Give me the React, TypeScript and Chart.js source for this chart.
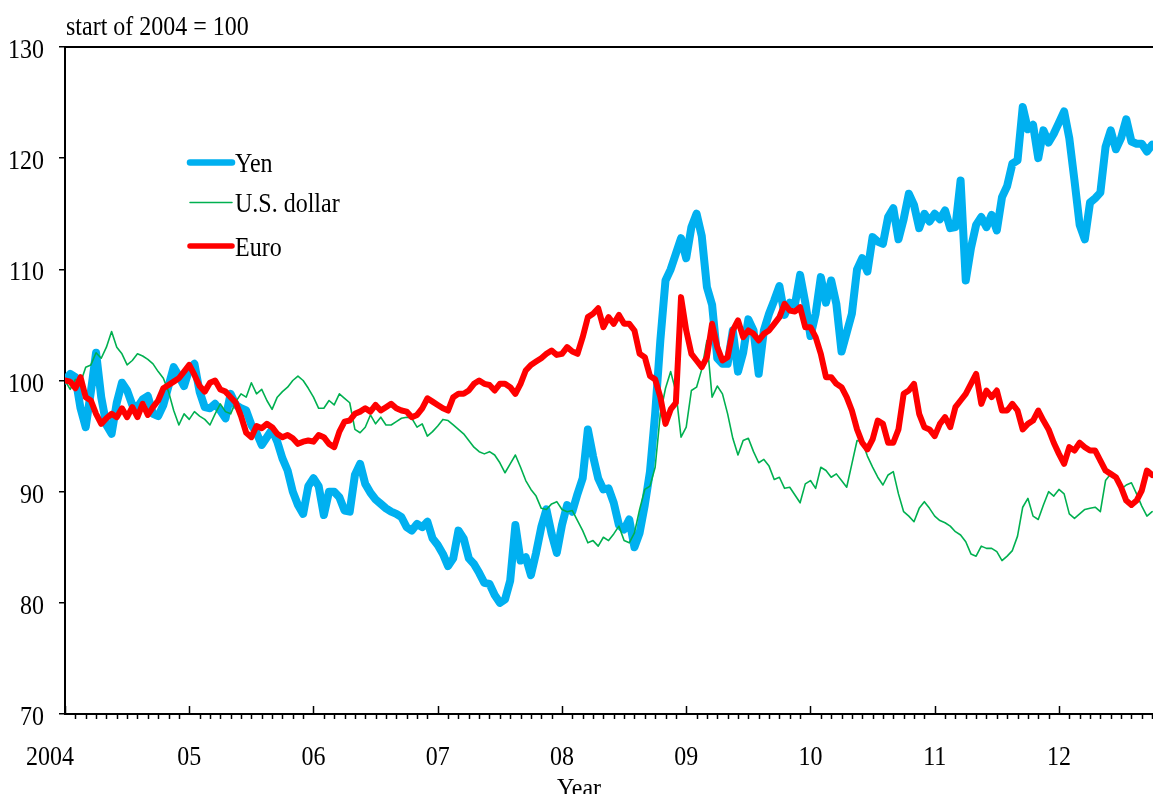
import { useEffect, useRef } from 'react';
import { Chart, registerables } from 'chart.js';

Chart.register(...registerables);

// Semi-monthly readings, first value = start of 2004, last = October 2012
const START_YEAR = 2004;
const POINTS_PER_YEAR = 24;

const yearLabels = ['2004', '05', '06', '07', '08', '09', '10', '11', '12'];
const yTickValues = [70, 80, 90, 100, 110, 120, 130];

const yen = [
  100.0, 100.6, 100.3, 97.5, 95.8, 99.0, 102.5, 98.5, 96.0, 95.2, 98.0, 99.8, 99.1, 97.8, 97.6, 98.3, 98.6, 97.0, 96.8, 97.8, 99.5, 101.2, 100.4, 99.5,
  101.0, 101.5, 99.0, 97.6, 97.5, 97.9, 97.3, 96.6, 98.8, 97.8, 97.5, 97.3, 96.0, 95.3, 94.2, 94.9, 95.6, 94.5, 93.0, 91.9, 90.0, 88.8, 88.0, 90.5,
  91.2, 90.5, 87.9, 90.0, 90.0, 89.5, 88.3, 88.2, 91.5, 92.5, 90.7, 89.9, 89.3, 88.9, 88.5, 88.2, 88.0, 87.7, 86.8, 86.5, 87.1, 86.8, 87.3, 85.8,
  85.2, 84.4, 83.3, 84.0, 86.5, 85.8, 84.0, 83.5, 82.7, 81.8, 81.7, 80.7, 80.0, 80.3, 82.0, 87.0, 83.8, 84.1, 82.5, 84.5, 86.8, 88.4, 86.2, 84.5,
  87.0, 88.8, 88.2, 89.8, 91.2, 95.6, 93.2, 91.2, 90.2, 90.3, 89.0, 87.0, 86.6, 87.5, 85.0, 86.3, 88.8, 91.8, 97.0, 103.6, 109.0, 110.0, 111.4, 112.8,
  111.0, 113.8, 115.0, 113.0, 108.4, 106.8, 102.0, 101.5, 101.5, 104.5, 100.8, 102.5, 105.5, 104.5, 100.6, 104.5, 106.0, 107.2, 108.5, 105.9, 107.0, 106.8, 109.5, 107.0,
  104.0, 106.0, 109.3, 107.0, 109.0, 106.9, 102.6, 104.3, 106.0, 110.0, 111.0, 109.8, 112.9, 112.5, 112.3, 114.7, 115.5, 112.7, 114.5, 116.8, 115.8, 113.7, 115.0, 114.3,
  115.0, 114.5, 115.3, 113.7, 113.8, 118.0, 109.0, 111.9, 114.0, 114.7, 113.8, 114.9, 113.5, 116.5, 117.5, 119.5, 119.8, 124.6, 122.6, 123.0, 120.0, 122.5, 121.4, 122.2,
  123.2, 124.2, 121.8, 118.0, 114.0, 112.7, 116.0, 116.4, 116.9, 121.0, 122.5, 120.8, 121.8, 123.5, 121.5, 121.3, 121.3, 120.6, 121.2,
];

const usDollar = [
  100.0, 99.2, 100.1, 99.8, 101.2, 101.4, 102.5, 102.0, 103.0, 104.4, 103.0, 102.4, 101.4, 101.8, 102.4, 102.2, 101.9, 101.5, 100.8, 100.2, 99.0, 97.3, 96.0, 97.0,
  96.5, 97.2, 96.8, 96.5, 96.0, 97.0, 97.9, 97.2, 97.0, 98.1, 98.8, 98.5, 99.8, 98.8, 99.2, 98.2, 97.4, 98.5, 99.0, 99.4, 100.0, 100.4, 100.0, 99.3,
  98.5, 97.5, 97.5, 98.2, 97.8, 98.8, 98.4, 98.0, 95.6, 95.3, 95.8, 96.9, 96.1, 96.7, 96.0, 96.0, 96.3, 96.6, 96.7, 96.6, 95.8, 96.1, 95.0, 95.4,
  95.9, 96.5, 96.4, 96.0, 95.6, 95.2, 94.6, 94.0, 93.6, 93.4, 93.6, 93.3, 92.6, 91.7, 92.5, 93.3, 92.2, 91.0, 90.2, 89.6, 88.5, 88.4, 88.9, 89.1,
  88.4, 88.2, 88.3, 87.4, 86.5, 85.4, 85.6, 85.1, 85.9, 85.6, 86.2, 86.9, 85.6, 85.4, 86.3, 88.4, 90.2, 90.5, 92.2, 97.0, 99.3, 100.8, 99.0, 94.9,
  95.8, 99.1, 99.4, 101.0, 103.6, 98.5, 99.5, 98.8, 97.0, 94.8, 93.3, 94.6, 94.8, 93.6, 92.6, 92.9, 92.3, 91.1, 91.3, 90.3, 90.4, 89.7, 89.0, 90.7,
  91.0, 90.3, 92.2, 91.9, 91.3, 91.6, 91.0, 90.4, 92.5, 94.6, 94.5, 93.2, 92.2, 91.3, 90.6, 91.5, 91.8, 89.8, 88.2, 87.8, 87.3, 88.5, 89.1, 88.5,
  87.8, 87.4, 87.2, 86.9, 86.4, 86.1, 85.5, 84.4, 84.2, 85.1, 84.9, 84.9, 84.6, 83.8, 84.2, 84.7, 86.0, 88.6, 89.4, 87.8, 87.5, 88.8, 90.0, 89.6,
  90.2, 89.8, 88.0, 87.6, 88.0, 88.4, 88.5, 88.6, 88.2, 91.0, 91.6, 91.2, 90.2, 90.6, 90.8, 89.8, 88.7, 87.8, 88.2,
];

const euro = [
  100.0, 99.9, 99.3, 100.3, 98.5, 98.2, 97.0, 96.1, 96.6, 97.0, 96.7, 97.5, 96.7, 97.6, 96.7, 97.9, 96.9, 97.6, 98.2, 99.3, 99.6, 99.9, 100.2, 100.8,
  101.4, 100.5, 99.5, 99.0, 99.8, 100.0, 99.2, 99.0, 98.5, 98.0, 96.8, 95.3, 94.9, 95.9, 95.7, 96.1, 95.8, 95.2, 94.9, 95.1, 94.8, 94.3, 94.5, 94.6,
  94.5, 95.1, 94.9, 94.3, 94.0, 95.4, 96.3, 96.4, 97.0, 97.2, 97.5, 97.2, 97.8, 97.3, 97.6, 97.9, 97.5, 97.3, 97.2, 96.7, 96.9, 97.5, 98.4, 98.1,
  97.8, 97.5, 97.3, 98.5, 98.8, 98.8, 99.1, 99.7, 100.0, 99.7, 99.6, 99.1, 99.7, 99.7, 99.4, 98.8, 99.7, 100.9, 101.4, 101.7, 102.0, 102.4, 102.7, 102.3,
  102.4, 103.0, 102.6, 102.4, 103.9, 105.7, 106.0, 106.5, 104.8, 105.7, 105.1, 105.9, 105.1, 105.1, 104.5, 102.4, 102.1, 100.4, 100.1, 98.5, 96.1, 97.4, 98.0, 107.5,
  104.5, 102.4, 101.8, 101.2, 102.1, 105.1, 103.0, 101.8, 102.1, 104.5, 105.4, 103.9, 104.5, 104.2, 103.6, 104.2, 104.5, 105.1, 105.7, 106.9, 106.3, 106.2, 106.6, 104.8,
  104.8, 103.9, 102.4, 100.3, 100.3, 99.7, 99.4, 98.5, 97.3, 95.6, 94.4, 93.8, 94.7, 96.4, 96.1, 94.4, 94.4, 95.6, 98.8, 99.1, 99.7, 97.0, 95.8, 95.6,
  95.0, 96.1, 96.7, 95.8, 97.6, 98.2, 98.8, 99.7, 100.6, 97.9, 99.1, 98.5, 99.1, 97.3, 97.3, 97.9, 97.3, 95.6, 96.1, 96.4, 97.3, 96.4, 95.6, 94.4,
  93.4, 92.5, 94.0, 93.7, 94.4, 94.0, 93.7, 93.7, 92.8, 91.9, 91.6, 91.3, 90.4, 89.2, 88.8, 89.2, 90.1, 91.9, 91.5,
];

const seriesNames = ['Yen', 'U.S. dollar', 'Euro'];
const titleText = 'start of 2004 = 100';
const axisTitle = 'Year';

const COLORS = { yen: '#00B0F0', usd: '#00B050', euro: '#FF0000' };
const WIDTHS = { yen: 8, usd: 1.6, euro: 6 };
const LEGEND_WIDTHS = { yen: 6.5, usd: 1.5, euro: 5.5 };
const FONT = '"Liberation Serif", "Times New Roman", serif';
const TEXT_STRETCH = 1.12;

const toPoints = (vals: number[]) =>
  vals.map((v, i) => ({ x: START_YEAR + i / POINTS_PER_YEAR, y: v }));

const decorPlugin = {
  id: 'decor',
  afterDraw(chart: any) {
    const { ctx, chartArea: a, scales } = chart;
    const xs = scales.x;
    const ys = scales.y;
    ctx.save();
    ctx.strokeStyle = '#000';
    ctx.fillStyle = '#000';

    // top frame line
    ctx.lineWidth = 2;
    ctx.beginPath();
    ctx.moveTo(a.left, a.top);
    ctx.lineTo(a.right, a.top);
    ctx.stroke();

    // x ticks: yearly majors (inside), monthly minors (outside)
    ctx.lineWidth = 1.5;
    for (let m = 0; ; m++) {
      const v = START_YEAR + m / 12;
      if (v > xs.max + 1e-6) break;
      const px = Math.round(xs.getPixelForValue(v)) + 0.5;
      ctx.beginPath();
      if (m % 12 === 0) {
        ctx.moveTo(px, a.bottom - 8);
        ctx.lineTo(px, a.bottom);
      } else {
        ctx.moveTo(px, a.bottom);
        ctx.lineTo(px, a.bottom + 5);
      }
      ctx.stroke();
    }

    ctx.font = `24px ${FONT}`;
    const txt = (s: string, px: number, py: number, align: CanvasTextAlign) => {
      ctx.save();
      ctx.translate(px, py);
      ctx.scale(1, TEXT_STRETCH);
      ctx.textAlign = align;
      ctx.textBaseline = 'alphabetic';
      ctx.fillText(s, 0, 0);
      ctx.restore();
    };

    // y labels
    yTickValues.forEach((v) => {
      const py = ys.getPixelForValue(v);
      txt(String(v), a.left - 21, py + 11, 'right');
    });

    // x labels
    yearLabels.forEach((lab, i) => {
      const px = xs.getPixelForValue(START_YEAR + i);
      txt(lab, i === 0 ? px - 15 : px, a.bottom + 51, 'center');
    });

    // axis title and unit note
    txt(axisTitle, a.left + 514, a.bottom + 83, 'center');
    txt(titleText, a.left + 1, a.top - 12, 'left');

    // legend
    const legendRows = [
      { name: seriesNames[0], color: COLORS.yen, width: LEGEND_WIDTHS.yen, y: a.top + 115.5 },
      { name: seriesNames[1], color: COLORS.usd, width: LEGEND_WIDTHS.usd, y: a.top + 155.5 },
      { name: seriesNames[2], color: COLORS.euro, width: LEGEND_WIDTHS.euro, y: a.top + 199 },
    ];
    legendRows.forEach((r) => {
      ctx.save();
      ctx.strokeStyle = r.color;
      ctx.lineWidth = r.width;
      ctx.lineCap = 'round';
      ctx.beginPath();
      ctx.moveTo(a.left + 125, r.y);
      ctx.lineTo(a.left + 167, r.y);
      ctx.stroke();
      ctx.restore();
      txt(r.name, a.left + 170, r.y + 9.5, 'left');
    });

    ctx.restore();
  },
};

export default function App() {
  const canvasRef = useRef<HTMLCanvasElement | null>(null);

  useEffect(() => {
    document.body.style.margin = '0';
    document.body.style.overflow = 'hidden';
    const canvas = canvasRef.current;
    if (!canvas) return;

    const lineCommon = {
      pointRadius: 0,
      pointHoverRadius: 0,
      tension: 0,
      fill: false,
      borderJoinStyle: 'round' as const,
      borderCapStyle: 'round' as const,
    };

    const chart = new Chart(canvas, {
      type: 'line',
      data: {
        datasets: [
          { ...lineCommon, label: seriesNames[2], data: toPoints(euro), borderColor: COLORS.euro, borderWidth: WIDTHS.euro, order: 0 },
          { ...lineCommon, label: seriesNames[1], data: toPoints(usDollar), borderColor: COLORS.usd, borderWidth: WIDTHS.usd, order: 1 },
          { ...lineCommon, label: seriesNames[0], data: toPoints(yen), borderColor: COLORS.yen, borderWidth: WIDTHS.yen, order: 2 },
        ],
      },
      options: {
        responsive: false,
        animation: false,
        devicePixelRatio: 1,
        layout: { padding: { top: 47, left: 0, right: 0, bottom: 0 } },
        plugins: {
          legend: { display: false },
          tooltip: { enabled: false },
          title: { display: false },
        },
        events: [],
        scales: {
          x: {
            type: 'linear',
            min: START_YEAR,
            max: 2012.757,
            grid: { display: false },
            border: { display: true, color: '#000', width: 2 },
            ticks: { display: false, stepSize: 1 },
            afterFit: (s: any) => {
              s.height = 80;
            },
          },
          y: {
            type: 'linear',
            min: 70,
            max: 130,
            grid: { drawOnChartArea: false, drawTicks: true, tickLength: 6, color: '#000', lineWidth: 1.5 },
            border: { display: true, color: '#000', width: 2 },
            ticks: { display: false, stepSize: 10 },
            afterFit: (s: any) => {
              s.width = 65;
            },
          },
        },
      },
      plugins: [decorPlugin],
    });

    return () => {
      chart.destroy();
    };
  }, []);

  return (
    <div style={{ width: 1153, height: 794, position: 'relative', background: '#fff' }}>
      <canvas ref={canvasRef} width={1153} height={794} style={{ display: 'block', width: 1153, height: 794 }} />
    </div>
  );
}
